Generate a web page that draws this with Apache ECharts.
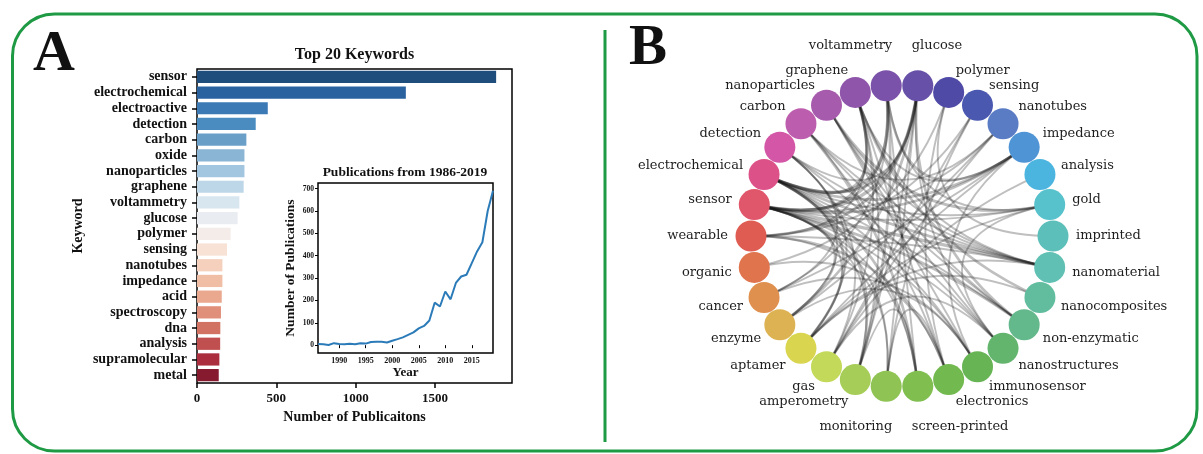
<!DOCTYPE html>
<html>
<head>
<meta charset="utf-8">
<script src="https://cdn.jsdelivr.net/npm/echarts@6/dist/echarts.min.js"></script>
<style>
  html, body { margin: 0; padding: 0; background: #ffffff; }
  #chart { width: 1203px; height: 454px; }
</style>
</head>
<body>
<div id="chart"></div>
<script>
// ---- Panel A: keyword counts ----
const keywords = ['sensor', 'electrochemical', 'electroactive', 'detection', 'carbon', 'oxide',
  'nanoparticles', 'graphene', 'voltammetry', 'glucose', 'polymer', 'sensing', 'nanotubes',
  'impedance', 'acid', 'spectroscopy', 'dna', 'analysis', 'supramolecular', 'metal'];
const keywordCounts = [1885, 1316, 446, 370, 311, 299, 299, 294, 267, 256, 212, 189, 160,
  160, 156, 151, 147, 146, 141, 137];
const barPalette = ['#1f4e7d', '#2a62a0', '#3b7ab5', '#4a8cc0', '#6a9fc8', '#8ab5d5', '#a2c6df',
  '#bdd6e8', '#d8e6f0', '#e9edf1', '#f4ece8', '#f8e2d6', '#f5d0bd', '#f0bda5', '#eaa98f',
  '#e08f7a', '#d27262', '#c0504f', '#ab2e3e', '#861b30'];
const countTicks = [0, 500, 1000, 1500];

// ---- Panel A inset: publications per year ----
const pubYears = [1986, 1987, 1988, 1989, 1990, 1991, 1992, 1993, 1994, 1995, 1996, 1997, 1998,
  1999, 2000, 2001, 2002, 2003, 2004, 2005, 2006, 2007, 2008, 2009, 2010, 2011, 2012, 2013,
  2014, 2015, 2016, 2017, 2018, 2019];
const pubCounts = [5, 4, 1, 9, 5, 4, 6, 4, 9, 7, 14, 15, 15, 12, 20, 27, 35, 46, 57, 75, 86, 110,
  190, 173, 240, 205, 278, 307, 315, 367, 419, 460, 600, 690];
const yearTicks = [1990, 1995, 2000, 2005, 2010, 2015];
const pubTicks = [0, 100, 200, 300, 400, 500, 600, 700];

// ---- Panel B: keyword co-occurrence network (placed counter-clockwise from the right) ----
const networkTerms = ['imprinted', 'gold', 'analysis', 'impedance', 'nanotubes', 'sensing',
  'polymer', 'glucose', 'voltammetry', 'graphene', 'nanoparticles', 'carbon', 'detection',
  'electrochemical', 'sensor', 'wearable', 'organic', 'cancer', 'enzyme', 'aptamer', 'gas',
  'amperometry', 'monitoring', 'screen-printed', 'electronics', 'immunosensor',
  'nanostructures', 'non-enzymatic', 'nanocomposites', 'nanomaterial'];
const networkColors = ['#5dbfba', '#57c2cc', '#4cb5df', '#4f95d6', '#5a7cc4', '#4a58b0',
  '#4f4aa6', '#6750a8', '#7a52a9', '#8f55aa', '#a65bad', '#bd5dad', '#d456a6', '#dd5189',
  '#e0566a', '#df5c52', '#df744d', '#df904f', '#ddb253', '#d9d54e', '#c3d959', '#a6cd57',
  '#8fc353', '#7fbe4f', '#72b94f', '#67b455', '#63b56e', '#63b98b', '#62bd9f', '#5fc0b3'];
// [term, term, co-occurrence strength]
const networkLinks = [
  ['sensor', 'glucose', 3], ['sensor', 'voltammetry', 2], ['sensor', 'graphene', 2],
  ['sensor', 'nanotubes', 1], ['sensor', 'impedance', 2], ['sensor', 'gold', 1],
  ['sensor', 'nanomaterial', 3], ['sensor', 'non-enzymatic', 2], ['sensor', 'nanostructures', 1],
  ['sensor', 'immunosensor', 1], ['sensor', 'screen-printed', 1], ['sensor', 'monitoring', 1],
  ['sensor', 'amperometry', 1], ['sensor', 'enzyme', 2], ['sensor', 'aptamer', 1],
  ['electrochemical', 'voltammetry', 3], ['electrochemical', 'glucose', 2],
  ['electrochemical', 'graphene', 2], ['electrochemical', 'impedance', 2],
  ['electrochemical', 'gold', 1], ['electrochemical', 'nanomaterial', 2],
  ['electrochemical', 'non-enzymatic', 1], ['electrochemical', 'immunosensor', 1],
  ['electrochemical', 'screen-printed', 2], ['electrochemical', 'amperometry', 2],
  ['electrochemical', 'aptamer', 2], ['electrochemical', 'enzyme', 1],
  ['detection', 'glucose', 1], ['detection', 'nanomaterial', 1], ['detection', 'aptamer', 1],
  ['detection', 'cancer', 1], ['detection', 'gas', 1], ['detection', 'nanostructures', 1],
  ['carbon', 'nanotubes', 1], ['carbon', 'screen-printed', 2], ['carbon', 'electronics', 1],
  ['carbon', 'nanomaterial', 1], ['carbon', 'non-enzymatic', 1],
  ['nanoparticles', 'gold', 2], ['nanoparticles', 'nanostructures', 1],
  ['nanoparticles', 'nanomaterial', 1], ['nanoparticles', 'immunosensor', 1],
  ['nanoparticles', 'non-enzymatic', 1],
  ['graphene', 'nanocomposites', 2], ['graphene', 'nanomaterial', 1], ['graphene', 'electronics', 1],
  ['graphene', 'wearable', 1], ['graphene', 'gas', 1], ['graphene', 'amperometry', 1],
  ['graphene', 'impedance', 1],
  ['voltammetry', 'impedance', 2], ['voltammetry', 'amperometry', 2],
  ['voltammetry', 'screen-printed', 1], ['voltammetry', 'cancer', 1], ['voltammetry', 'gold', 1],
  ['glucose', 'non-enzymatic', 2], ['glucose', 'enzyme', 2], ['glucose', 'wearable', 2],
  ['glucose', 'monitoring', 1], ['glucose', 'amperometry', 1], ['glucose', 'nanostructures', 1],
  ['polymer', 'imprinted', 1], ['polymer', 'organic', 1], ['polymer', 'electronics', 1],
  ['sensing', 'wearable', 1], ['sensing', 'gas', 1], ['sensing', 'monitoring', 1],
  ['nanotubes', 'gas', 1], ['nanotubes', 'enzyme', 1],
  ['impedance', 'aptamer', 1], ['impedance', 'immunosensor', 1], ['impedance', 'cancer', 1],
  ['analysis', 'gas', 1], ['gold', 'aptamer', 1], ['gold', 'nanostructures', 1],
  ['wearable', 'electronics', 2], ['wearable', 'monitoring', 1], ['wearable', 'nanomaterial', 1],
  ['organic', 'electronics', 1], ['cancer', 'immunosensor', 1], ['enzyme', 'immunosensor', 1],
  ['aptamer', 'nanomaterial', 1], ['aptamer', 'nanocomposites', 1],
  ['gas', 'nanostructures', 1], ['amperometry', 'screen-printed', 1],
  ['monitoring', 'electronics', 1]
];

const SERIF = 'Liberation Serif';
const NET_FONT = 'DejaVu Serif';
const GREEN = '#1f9a44';
const STEP_DEG = 360 / networkTerms.length;
const NODE_SIZE = 31;

// unit-circle position of each term (y up)
function unitPos(i) {
  const a = i * STEP_DEG * Math.PI / 180;
  return [Math.cos(a), Math.sin(a)];
}

const netNodes = networkTerms.map(function (name, i) {
  const p = unitPos(i);
  const c = p[0], s = p[1];
  let dx, dy;
  if (Math.abs(s) > 0.99) {          // terms at the very top and bottom sit further out
    dx = -6 * Math.sign(c);
    dy = -40 * Math.sign(s);
  } else {
    dx = 23 * c;
    dy = -23 * s;
  }
  return {
    name: name,
    value: [c, s],
    itemStyle: { color: networkColors[i] },
    label: {
      show: true,
      position: [NODE_SIZE / 2 + dx, NODE_SIZE / 2 + dy],
      align: c > 0.01 ? 'left' : (c < -0.01 ? 'right' : 'center'),
      verticalAlign: 'middle'
    }
  };
});

// bend every link through the ring's centre (quadratic curve, control point at origin)
const netEdges = networkLinks.map(function (l) {
  const a = unitPos(networkTerms.indexOf(l[0]));
  const b = unitPos(networkTerms.indexOf(l[1]));
  const p1 = [a[0], -a[1]], p2 = [b[0], -b[1]];   // screen orientation (y down)
  const m = [(p1[0] + p2[0]) / 2, (p1[1] + p2[1]) / 2];
  const n = [p2[1] - p1[1], p1[0] - p2[0]];
  const curv = (-m[0] * n[0] - m[1] * n[1]) / (n[0] * n[0] + n[1] * n[1]);
  return {
    source: l[0],
    target: l[1],
    lineStyle: { width: 1.9 + (l[2] - 1) * 0.8, curveness: curv }
  };
});

const plainNumber = function (v) { return String(v); };
const boldSerif = function (size) {
  return { fontFamily: SERIF, fontWeight: 'bold', fontSize: size, color: '#111' };
};

const chart = echarts.init(document.getElementById('chart'), null, { renderer: 'canvas' });

chart.setOption({
  backgroundColor: '#ffffff',
  animation: false,
  grid: [
    { left: 197, top: 69, width: 315, height: 314, show: true, borderColor: '#000', borderWidth: 1.5, backgroundColor: 'transparent', containLabel: false },
    { left: 318, top: 183, width: 175, height: 170, show: true, borderColor: '#000', borderWidth: 1.5, backgroundColor: '#fff', containLabel: false },
    { left: 751, top: 85, width: 302, height: 302, show: false, containLabel: false }
  ],
  xAxis: [
    {
      gridIndex: 0, type: 'value', min: 0, max: 1985,
      axisLine: { show: false },
      axisTick: { show: true, length: 5, lineStyle: { color: '#000', width: 1.5 }, customValues: countTicks },
      axisLabel: Object.assign(boldSerif(13), { margin: 9, customValues: countTicks, formatter: plainNumber }),
      splitLine: { show: false },
      name: 'Number of Publicaitons', nameLocation: 'middle', nameGap: 27,
      nameTextStyle: boldSerif(14)
    },
    {
      gridIndex: 1, type: 'value', min: 1986, max: 2019,
      axisLine: { show: false },
      axisTick: { show: true, length: 3, lineStyle: { color: '#000', width: 1 }, customValues: yearTicks },
      axisLabel: Object.assign(boldSerif(8), { margin: 4, customValues: yearTicks, formatter: plainNumber }),
      splitLine: { show: false },
      name: 'Year', nameLocation: 'middle', nameGap: 12,
      nameTextStyle: boldSerif(13)
    },
    { gridIndex: 2, type: 'value', min: -1, max: 1, show: false }
  ],
  yAxis: [
    {
      gridIndex: 0, type: 'category', data: keywords, inverse: true,
      axisLine: { show: false },
      axisTick: { show: true, alignWithLabel: true, interval: 0, length: 5, lineStyle: { color: '#000', width: 1.5 } },
      axisLabel: Object.assign(boldSerif(14), { margin: 10, interval: 0 }),
      splitLine: { show: false },
      name: 'Keyword', nameLocation: 'middle', nameGap: 112, nameRotate: 90,
      nameTextStyle: boldSerif(14)
    },
    {
      gridIndex: 1, type: 'value', min: -35, max: 725,
      axisLine: { show: false },
      axisTick: { show: true, length: 3, lineStyle: { color: '#000', width: 1 }, customValues: pubTicks },
      axisLabel: Object.assign(boldSerif(7.5), { margin: 4, customValues: pubTicks, formatter: plainNumber }),
      splitLine: { show: false },
      name: 'Number of Publications', nameLocation: 'middle', nameGap: 20, nameRotate: 90,
      nameTextStyle: boldSerif(13.5)
    },
    { gridIndex: 2, type: 'value', min: -1, max: 1, show: false }
  ],
  series: [
    {
      type: 'bar', xAxisIndex: 0, yAxisIndex: 0,
      barCategoryGap: '22%',
      data: keywordCounts.map(function (v, i) {
        return { value: v, itemStyle: { color: barPalette[i] } };
      }),
      silent: true
    },
    {
      type: 'line', xAxisIndex: 1, yAxisIndex: 1,
      data: pubYears.map(function (y, i) { return [y, pubCounts[i]]; }),
      showSymbol: false, smooth: false,
      lineStyle: { color: '#2c7bb9', width: 2 },
      silent: true
    },
    {
      type: 'graph', coordinateSystem: 'cartesian2d', xAxisIndex: 2, yAxisIndex: 2,
      symbol: 'circle', symbolSize: NODE_SIZE,
      data: netNodes,
      links: netEdges,
      edgeSymbol: ['none', 'none'],
      itemStyle: { borderWidth: 0, opacity: 1 },
      lineStyle: { color: '#1a1a1a', opacity: 0.28 },
      label: { fontFamily: NET_FONT, fontSize: 13, color: '#1e1e1e' },
      emphasis: { disabled: true },
      silent: true,
      z: 3
    }
  ],
  graphic: [
    {
      type: 'rect', z: 10, silent: true,
      shape: { x: 12.5, y: 14, width: 1184.5, height: 437, r: 42 },
      style: { fill: 'none', stroke: GREEN, lineWidth: 3 }
    },
    {
      type: 'line', z: 10, silent: true,
      shape: { x1: 605, y1: 30, x2: 605, y2: 442 },
      style: { stroke: GREEN, lineWidth: 3 }
    },
    {
      type: 'text', z: 10, silent: true, x: 33, y: 55,
      style: { text: 'A', font: 'bold 58px "Liberation Serif"', fill: '#111', verticalAlign: 'middle' }
    },
    {
      type: 'text', z: 10, silent: true, x: 629, y: 49,
      style: { text: 'B', font: 'bold 57px "Liberation Serif"', fill: '#111', verticalAlign: 'middle' }
    },
    {
      type: 'text', z: 10, silent: true, x: 354.5, y: 55,
      style: { text: 'Top 20 Keywords', font: 'bold 16px "Liberation Serif"', fill: '#111', align: 'center', verticalAlign: 'middle' }
    },
    {
      type: 'text', z: 10, silent: true, x: 405, y: 173,
      style: { text: 'Publications from 1986-2019', font: 'bold 13.5px "Liberation Serif"', fill: '#111', align: 'center', verticalAlign: 'middle' }
    }
  ]
});
</script>
</body>
</html>
